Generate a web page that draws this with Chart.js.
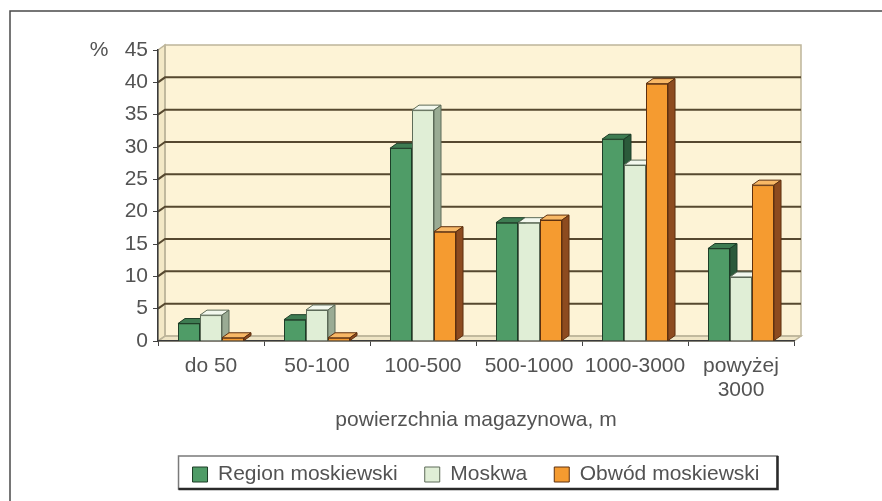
<!DOCTYPE html>
<html>
<head>
<meta charset="utf-8">
<script src="https://cdn.jsdelivr.net/npm/chart.js@4.4.1/dist/chart.umd.min.js"></script>
<style>
  html, body { margin: 0; padding: 0; background: #fff; }
  #wrap { width: 882px; height: 501px; }
</style>
</head>
<body>
<div id="wrap"><canvas id="c" width="882" height="501"></canvas></div>
<script>
// ---- data ----
const categories = ['do 50', '50-100', '100-500', '500-1000', '1000-3000', ['powyżej', '3000']];
const seriesNames = ['Region moskiewski', 'Moskwa', 'Obwód moskiewski'];
const regionValues = [2.7, 3.3, 29.8, 18.3, 31.2, 14.3];
const moskwaValues = [4.0, 4.8, 35.7, 18.3, 27.2, 9.9];
const obwodValues = [0.5, 0.5, 16.9, 18.7, 39.8, 24.1];
const yMin = 0, yMax = 45, yStep = 5;
const yUnit = '%';
const xTitle = 'powierzchnia magazynowa, m';

// ---- styles ----
const FONT = '"Liberation Sans", Arial, sans-serif';
const INK = '#535353';
const DX = 7, DY = -5;            // depth offset of the 3D box
const faces = [
  { front: '#4f9c67', top: '#3e7c52', side: '#2b5a3a', edge: '#1d3d27' },
  { front: '#e0eed6', top: '#f3f8ee', side: '#9aab94', edge: '#5d6b58' },
  { front: '#f59b30', top: '#f8b866', side: '#8d4b1f', edge: '#5e300f' }
];
const seriesValues = [regionValues, moskwaValues, obwodValues];

function poly(ctx, pts) {
  ctx.beginPath();
  ctx.moveTo(pts[0][0], pts[0][1]);
  for (let i = 1; i < pts.length; i++) ctx.lineTo(pts[i][0], pts[i][1]);
  ctx.closePath();
}

const box3d = {
  id: 'box3d',
  beforeDraw(chart) {
    const { ctx, chartArea: a, scales: { y } } = chart;
    const L = a.left, R = a.right, T = a.top, B = a.bottom;
    ctx.save();
    ctx.fillStyle = '#fff';
    ctx.fillRect(0, 0, chart.width, chart.height);

    // page frame
    ctx.strokeStyle = '#4a4a4a';
    ctx.lineWidth = 1.5;
    ctx.beginPath();
    ctx.moveTo(10, chart.height);
    ctx.lineTo(10, 11);
    ctx.lineTo(chart.width, 11);
    ctx.stroke();

    // back wall, left wall, floor
    ctx.fillStyle = '#fdf3d6';
    ctx.fillRect(L + DX, T + DY, R - L, B - T);
    ctx.fillStyle = '#f3e8c6';
    poly(ctx, [[L, T], [L + DX, T + DY], [L + DX, B + DY], [L, B]]);
    ctx.fill();
    ctx.fillStyle = '#eee4c4';
    poly(ctx, [[L, B], [R, B], [R + DX, B + DY], [L + DX, B + DY]]);
    ctx.fill();

    ctx.strokeStyle = '#bdb59a';
    ctx.lineWidth = 1.5;
    ctx.strokeRect(L + DX, T + DY, R - L, B - T);
    poly(ctx, [[L, T], [L + DX, T + DY], [L + DX, B + DY], [L, B]]);
    ctx.stroke();
    poly(ctx, [[L, B], [R, B], [R + DX, B + DY], [L + DX, B + DY]]);
    ctx.stroke();

    // gridlines on the walls
    y.ticks.forEach(t => {
      if (t.value <= y.min || t.value >= y.max) return;
      const py = y.getPixelForValue(t.value);
      ctx.strokeStyle = '#56482f';
      ctx.lineWidth = 2;
      ctx.beginPath();
      ctx.moveTo(L, py);
      ctx.lineTo(L + DX, py + DY);
      ctx.lineTo(R + DX, py + DY);
      ctx.stroke();
    });

    // unit label
    ctx.fillStyle = INK;
    ctx.font = '21px ' + FONT;
    ctx.textAlign = 'center';
    ctx.textBaseline = 'middle';
    ctx.fillText(yUnit, 99, 50);
    ctx.restore();
  },
  afterDatasetsDraw(chart) {
    // redraw bars left to right with their top and side faces
    const ctx = chart.ctx;
    const metas = chart.data.datasets.map((d, i) => chart.getDatasetMeta(i));
    ctx.save();
    categories.forEach((c, ci) => {
      metas.forEach((meta, di) => {
        const bar = meta.data[ci];
        if (!bar) return;
        bar.draw(ctx);
        const { x, y, base, width } = bar.getProps(['x', 'y', 'base', 'width'], true);
        const l = x - width / 2, r = x + width / 2;
        const f = faces[di];
        ctx.lineWidth = 1;
        ctx.strokeStyle = f.edge;
        ctx.fillStyle = f.top;
        poly(ctx, [[l, y], [r, y], [r + DX, y + DY], [l + DX, y + DY]]);
        ctx.fill(); ctx.stroke();
        ctx.fillStyle = f.side;
        poly(ctx, [[r, y], [r + DX, y + DY], [r + DX, base + DY], [r, base]]);
        ctx.fill(); ctx.stroke();
      });
    });
    ctx.restore();
  },
  afterDraw(chart) {
    // frame round the legend
    const hb = chart.legend && chart.legend.legendHitBoxes;
    if (!hb || !hb.length) return;
    const ctx = chart.ctx;
    const last = hb[hb.length - 1];
    const x0 = hb[0].left - 14, x1 = last.left + last.width + 18;
    const y0 = hb[0].top - 8, y1 = hb[0].top + 25;
    ctx.save();
    ctx.strokeStyle = '#7a7a7a';
    ctx.lineWidth = 1.5;
    ctx.strokeRect(x0, y0, x1 - x0, y1 - y0);
    ctx.strokeStyle = '#2a2a2a';
    ctx.lineWidth = 2.5;
    ctx.beginPath();
    ctx.moveTo(x0, y1);
    ctx.lineTo(x1, y1);
    ctx.lineTo(x1, y0);
    ctx.stroke();
    ctx.restore();
  }
};

Chart.defaults.font.family = FONT;
Chart.defaults.color = INK;

new Chart(document.getElementById('c'), {
  type: 'bar',
  data: {
    labels: categories,
    datasets: seriesNames.map((name, i) => ({
      label: name,
      data: seriesValues[i],
      backgroundColor: faces[i].front,
      borderColor: faces[i].edge,
      borderWidth: 1,
      borderSkipped: 'bottom',
      barPercentage: 1,
      categoryPercentage: 0.623
    }))
  },
  options: {
    responsive: false,
    devicePixelRatio: 1,
    animation: false,
    layout: { padding: { left: 0, right: 88, top: 50, bottom: 6 } },
    plugins: {
      tooltip: { enabled: false },
      legend: {
        position: 'bottom',
        fullSize: false,
        labels: {
          font: { size: 21, family: FONT },
          color: INK,
          boxWidth: 15,
          boxHeight: 15,
          padding: 27
        }
      }
    },
    scales: {
      x: {
        grid: { display: true, drawOnChartArea: false, drawTicks: true, tickLength: 5, color: '#444', offset: true },
        border: { display: true, color: '#3a3a3a', width: 1.5 },
        ticks: { font: { size: 21, lineHeight: 1.15 }, color: INK, padding: 8, maxRotation: 0, autoSkip: false },
        title: { display: true, text: xTitle, font: { size: 21 }, color: INK, padding: { top: 2, bottom: 4 } },
        afterFit(s) { s.height = 96; }
      },
      y: {
        min: yMin,
        max: yMax,
        grid: { display: true, drawOnChartArea: false, drawTicks: true, tickLength: 5, color: '#444' },
        border: { display: true, color: '#3a3a3a', width: 1.5 },
        ticks: { stepSize: yStep, font: { size: 21 }, color: INK, padding: 5 },
        afterFit(s) { s.width = 158; }
      }
    }
  },
  plugins: [box3d]
});
</script>
</body>
</html>
